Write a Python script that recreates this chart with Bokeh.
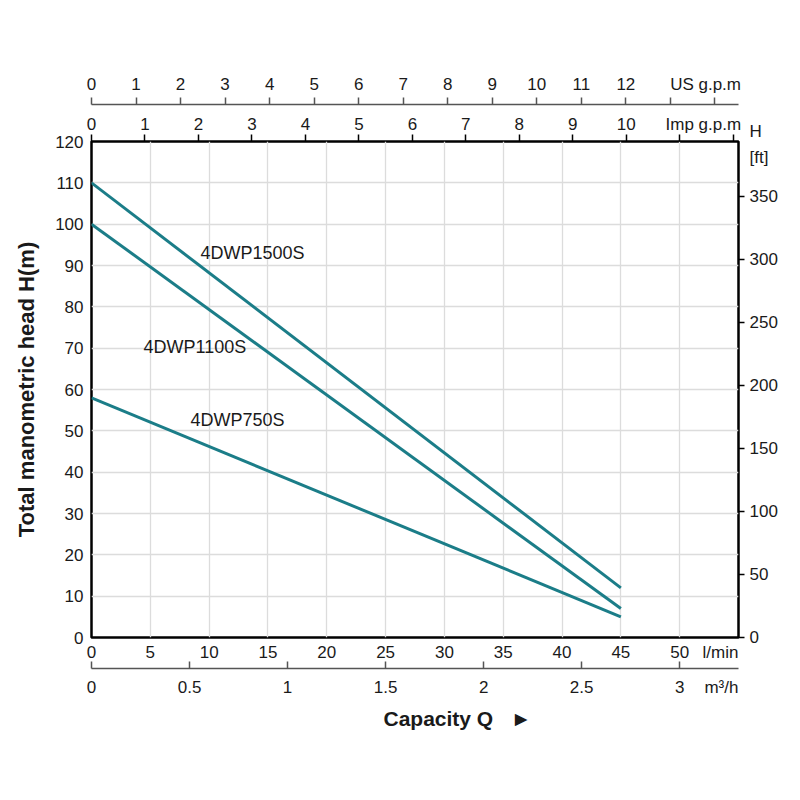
from bokeh.plotting import figure
from bokeh.models import Range1d, LinearAxis, FixedTicker, Label, NumeralTickFormatter, Title
from bokeh.embed import file_html
from bokeh.resources import INLINE

# ---------------- data ----------------
flow_1500 = [0, 45]            # l/min
head_1500 = [110, 12]          # m
flow_1100 = [0, 45]
head_1100 = [100, 7]
flow_750 = [0, 45]
head_750 = [58, 5]
series_names = ["4DWP1500S", "4DWP1100S", "4DWP750S"]

lmin_ticks = [0, 5, 10, 15, 20, 25, 30, 35, 40, 45, 50]
head_ticks = [0, 10, 20, 30, 40, 50, 60, 70, 80, 90, 100, 110, 120]
ft_ticks = [0, 50, 100, 150, 200, 250, 300, 350]
usgpm_ticks = [0, 1, 2, 3, 4, 5, 6, 7, 8, 9, 10, 11, 12, 13, 14]
usgpm_labels = [0, 1, 2, 3, 4, 5, 6, 7, 8, 9, 10, 11, 12]
impgpm_ticks = [0, 1, 2, 3, 4, 5, 6, 7, 8, 9, 10, 11, 12]
impgpm_labels = [0, 1, 2, 3, 4, 5, 6, 7, 8, 9, 10]
m3h_ticks = [0, 0.5, 1, 1.5, 2, 2.5, 3]

unit_us = "US g.p.m"
unit_imp = "Imp g.p.m"
unit_lmin = "l/min"
unit_m3h = "m³/h"
unit_ft = "H\n[ft]"
x_title = "Capacity Q\u00a0\u00a0\u00a0►"
y_title = "Total manometric head H(m)"

X_MAX = 55.0     # l/min
Y_MAX = 120.0    # m
LMIN_PER_USGPM = 3.78541
LMIN_PER_IMPGPM = 4.54609
M3H_PER_LMIN = 0.06
M_PER_FT = 0.3048

# positions (axis units) where the unit names sit in the tick rows
POS_US = 13.79
POS_IMP = 11.44
POS_LMIN = 53.47
POS_M3H = 3.213
POS_FT = 391.3

# ---------------- style ----------------
TEAL = "#1b7d88"
FONT = "Liberation Sans"
TICK_FS = "17px"
TXT = "#1a1a1a"
GRID = "#dcdcdc"
AXGRAY = "#555555"

p = figure(width=790, height=790,
           x_range=Range1d(0, X_MAX), y_range=Range1d(0, Y_MAX),
           output_backend="svg", toolbar_location=None,
           min_border_left=91, min_border_right=52,
           min_border_top=141, min_border_bottom=153)
p.outline_line_color = "black"
p.outline_line_width = 2.5
p.background_fill_color = "white"
p.border_fill_color = "white"

p.extra_x_ranges = {
    "us": Range1d(0, X_MAX / LMIN_PER_USGPM),
    "imp": Range1d(0, X_MAX / LMIN_PER_IMPGPM),
    "m3h": Range1d(0, X_MAX * M3H_PER_LMIN),
}
p.extra_y_ranges = {"ft": Range1d(0, Y_MAX / M_PER_FT)}


def style(ax):
    ax.major_label_text_font = FONT
    ax.major_label_text_font_size = TICK_FS
    ax.major_label_text_color = TXT


# grid
p.xgrid.ticker = FixedTicker(ticks=lmin_ticks)
p.ygrid.ticker = FixedTicker(ticks=head_ticks)
p.xgrid.grid_line_color = GRID
p.ygrid.grid_line_color = GRID
p.xgrid.grid_line_width = 1.3
p.ygrid.grid_line_width = 1.3

# left axis (m)
ya = p.yaxis[0]
style(ya)
ya.ticker = FixedTicker(ticks=head_ticks)
ya.major_tick_out = 0
ya.major_tick_in = 0
ya.minor_tick_line_color = None
ya.major_label_standoff = 8
ya.axis_line_color = None
ya.axis_label = y_title
ya.axis_label_text_font = FONT
ya.axis_label_text_font_style = "bold"
ya.axis_label_text_font_size = "22px"
ya.axis_label_text_color = TXT
ya.axis_label_standoff = 13

# bottom axis (l/min)
xa = p.xaxis[0]
style(xa)
xa.ticker = FixedTicker(ticks=lmin_ticks + [POS_LMIN])
xa.major_label_overrides = {POS_LMIN: unit_lmin}
xa.major_tick_out = 0
xa.major_tick_in = 0
xa.major_tick_line_color = None
xa.minor_tick_line_color = None
xa.major_label_standoff = 5
xa.axis_line_color = None
xa.axis_label = " "
xa.axis_label_text_font_size = "1px"
xa.axis_label_standoff = 0

# second bottom axis (m3/h)
ax_m3 = LinearAxis(x_range_name="m3h",
                   ticker=FixedTicker(ticks=m3h_ticks + [POS_M3H], minor_ticks=m3h_ticks),
                   formatter=NumeralTickFormatter(format="0.[0]"),
                   major_label_overrides={POS_M3H: unit_m3h})
style(ax_m3)
ax_m3.major_tick_in = 0
ax_m3.major_tick_out = 0
ax_m3.major_tick_line_color = None
ax_m3.minor_tick_in = 7
ax_m3.minor_tick_out = 0
ax_m3.minor_tick_line_color = AXGRAY
ax_m3.minor_tick_line_width = 1.5
ax_m3.major_label_standoff = 9
ax_m3.axis_line_color = AXGRAY
ax_m3.axis_line_width = 1.5
p.add_layout(ax_m3, "below")

# x-axis title
p.add_layout(Title(text=x_title, align="left", offset=292, text_font=FONT,
                   text_font_size="21px", text_font_style="bold",
                   text_color=TXT, standoff=10), "below")

# top axis (Imp gpm) next to frame
ax_imp = LinearAxis(x_range_name="imp",
                    ticker=FixedTicker(ticks=impgpm_labels + [POS_IMP], minor_ticks=impgpm_ticks),
                    major_label_overrides={POS_IMP: unit_imp})
style(ax_imp)
ax_imp.major_tick_out = 7
ax_imp.major_tick_in = 0
ax_imp.major_tick_line_color = None
ax_imp.minor_tick_out = 7
ax_imp.minor_tick_in = 0
ax_imp.minor_tick_line_color = "black"
ax_imp.minor_tick_line_width = 1.5
ax_imp.major_label_standoff = 1
ax_imp.axis_line_color = None
ax_imp.axis_label = " "
ax_imp.axis_label_text_font_size = "1px"
ax_imp.axis_label_standoff = 3
p.add_layout(ax_imp, "above")

# top axis (US gpm)
ax_us = LinearAxis(x_range_name="us",
                   ticker=FixedTicker(ticks=usgpm_labels + [POS_US], minor_ticks=usgpm_ticks),
                   major_label_overrides={POS_US: unit_us})
style(ax_us)
ax_us.major_tick_out = 7
ax_us.major_tick_in = 0
ax_us.major_tick_line_color = None
ax_us.minor_tick_out = 7
ax_us.minor_tick_in = 0
ax_us.minor_tick_line_color = AXGRAY
ax_us.minor_tick_line_width = 1.5
ax_us.major_label_standoff = 4
ax_us.axis_line_color = AXGRAY
ax_us.axis_line_width = 1.5
p.add_layout(ax_us, "above")

# right axis (ft)
ax_ft = LinearAxis(y_range_name="ft",
                   ticker=FixedTicker(ticks=ft_ticks + [POS_FT], minor_ticks=ft_ticks),
                   major_label_overrides={POS_FT: unit_ft})
style(ax_ft)
ax_ft.major_tick_out = 6
ax_ft.major_tick_in = 0
ax_ft.major_tick_line_color = None
ax_ft.minor_tick_out = 6
ax_ft.minor_tick_in = 0
ax_ft.minor_tick_line_color = "black"
ax_ft.minor_tick_line_width = 1.5
ax_ft.major_label_standoff = 5
ax_ft.major_label_text_line_height = 1.4
ax_ft.axis_line_color = None
p.add_layout(ax_ft, "right")

# curves
p.line(flow_1500, head_1500, line_color=TEAL, line_width=3)
p.line(flow_1100, head_1100, line_color=TEAL, line_width=3)
p.line(flow_750, head_750, line_color=TEAL, line_width=3)

# series labels
label_pos = [(9.27, 93.1), (4.42, 70.2), (8.42, 52.7)]
for name, (lx, ly) in zip(series_names, label_pos):
    p.add_layout(Label(x=lx, y=ly, text=name, text_font=FONT, text_font_size="18px",
                       text_color=TXT, text_baseline="middle", text_align="left"))

open("out.html", "w").write(file_html(p, INLINE))
